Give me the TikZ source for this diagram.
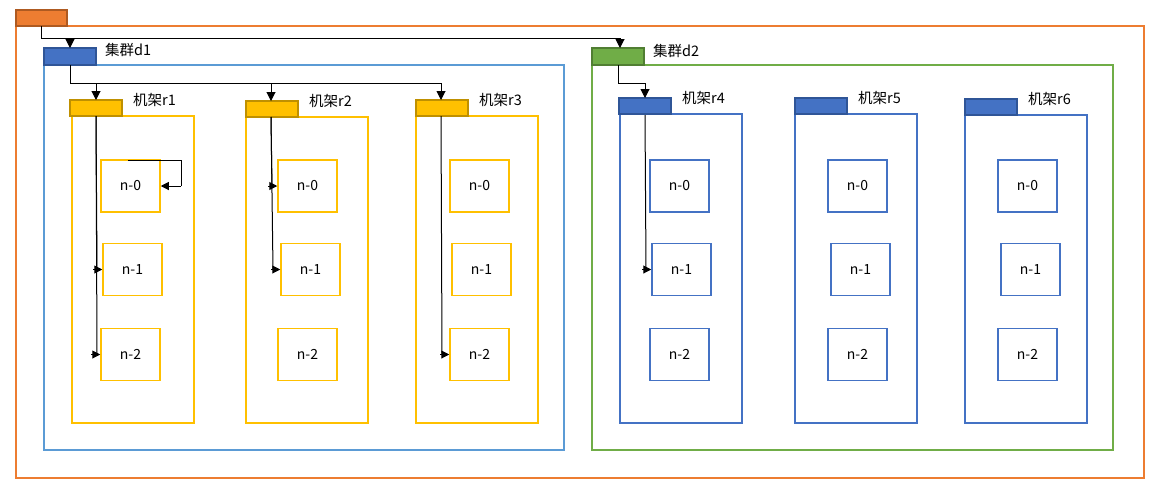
\documentclass[tikz,border=0pt]{standalone}
\usepackage{fontspec}
\setmainfont{Noto Sans CJK SC}
\usetikzlibrary{arrows.meta}
\definecolor{ora}{HTML}{ED7D31}\definecolor{orad}{HTML}{AE5A21}
\definecolor{lb}{HTML}{5B9BD5}\definecolor{gr}{HTML}{70AD47}\definecolor{grd}{HTML}{507E32}
\definecolor{yel}{HTML}{FFC000}\definecolor{yeld}{HTML}{BF9000}
\definecolor{blu}{HTML}{4472C4}\definecolor{blud}{HTML}{2F5597}
\tikzset{
 box/.style={draw=#1,line width=1.5pt},
 tab/.style 2 args={draw=#2,fill=#1,line width=1.5pt},
 nd/.style={draw=#1,line width=1.5pt,minimum width=59pt,minimum height=52pt,inner sep=0pt,font=\fontsize{14}{16}\selectfont},
 lbl/.style={anchor=west,inner sep=0pt,font=\fontsize{14.5}{16}\selectfont},
 arr/.style={-{Triangle[length=9pt,width=9pt]},line width=1pt},
 ln/.style={line width=1pt}
}
\begin{document}
\begin{tikzpicture}[x=1pt,y=-1pt]
\useasboundingbox (0,0) rectangle (1155,491);
% outer
\draw[box=ora] (16,26) rectangle (1144,478);
\draw[tab={ora}{orad}] (16,10) rectangle (67,26);
\coordinate (t0) at (41,26);
% clusters
\draw[box=lb] (44,65) rectangle (564,450);
\draw[tab={blu}{blud}] (44,48) rectangle (96,65);
\node[lbl] (ld1) at (105,50) {集群d1};
\draw[box=gr] (592,65) rectangle (1113,450);
\draw[tab={gr}{grd}] (592,48) rectangle (644,65);
\node[lbl] (ld2) at (653,51) {集群d2};
\coordinate (d1t) at (70,48); \coordinate (d2t) at (620,48);
\coordinate (d1b) at (70,65); \coordinate (d2b) at (618,65);
\draw[ln] (t0) -- (41,38) -- (620,38);
\draw[arr] (70,38) -- (d1t);
\draw[arr] (620,38) -- (d2t);
% racks
\foreach \n/\x/\y/\c/\d/\lx in {r1/70/100/yel/yeld/72,r2/246/101/yel/yeld/246,r3/416/100/yel/yeld/416,r4/619/98/blu/blud/620,r5/795/98/blu/blud/795,r6/965/99/blu/blud/965}{
 \draw[box=\c] (\lx,\y+16) rectangle (\lx+122,423);
 \draw[tab={\c}{\d}] (\x,\y) rectangle (\x+52,\y+16);
 \node[lbl] (l\n) at (\x+63,\y) {机架\n};
}
\draw[ln] (d1b) -- (70,83) -- (441,83);
\draw[arr] (96,83) -- (96,100);
\draw[arr] (271,83) -- (271,101);
\draw[arr] (441,83) -- (441,100);
\draw[ln] (d2b) -- (618,83) -- (645,83);
\draw[arr] (645,83) -- (645,98);
% nodes
\foreach \r/\a/\b/\c/\col in {r1/101/103/101/yel,r2/278/281/278/yel,r3/450/452/450/yel,r4/650/652/650/blu,r5/828/831/828/blu,r6/998/1001/998/blu}{
 \node[nd=\col] (\r n0) at (\a+29.5,186) {n-0};
 \node[nd=\col] (\r n1) at (\b+29.5,269.5) {n-1};
 \node[nd=\col] (\r n2) at (\c+29.5,354.5) {n-2};
}
\tikzset{tip/.style={-{Triangle[length=8pt,width=8pt]},line width=1pt}}
% inner arrows
\draw[ln] (96,116) -- (97,269.5);
\draw[tip] ([xshift=-9pt]r1n1.west) -- (r1n1.west);
\draw[ln] (96,116) -- (97,354.5);
\draw[tip] ([xshift=-9pt]r1n2.west) -- (r1n2.west);
\draw[ln] (128,160) -- (181,160) -- (181,186);
\draw[tip] (181,186) -- (r1n0.east);
\draw[ln] (271,117) -- (272,186);
\draw[tip] ([xshift=-9pt]r2n0.west) -- (r2n0.west);
\draw[ln] (271,117) -- (273,269.5);
\draw[tip] ([xshift=-9pt]r2n1.west) -- (r2n1.west);
\draw[ln] (441,116) -- (442,354.5);
\draw[tip] ([xshift=-9pt]r3n2.west) -- (r3n2.west);
\draw[ln] (645,115) -- (646,269.5);
\draw[tip] ([xshift=-9pt]r4n1.west) -- (r4n1.west);
\end{tikzpicture}
\end{document}
